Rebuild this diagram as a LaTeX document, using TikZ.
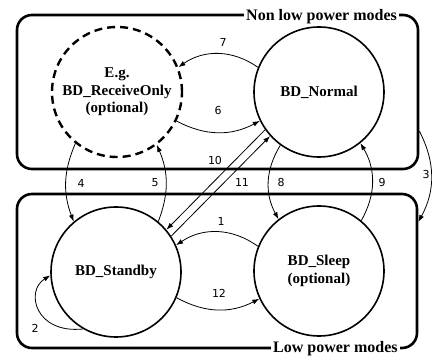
\documentclass[tikz,border=0pt]{standalone}
\usepackage{fontspec}
\setmainfont{Liberation Serif}
\newfontfamily\numfont{DejaVu Sans}
\usetikzlibrary{arrows.meta}

\begin{document}
\begin{tikzpicture}[x=1pt,y=1pt,
  modebox/.style={draw, line width=2.6pt, rounded corners=15pt,
    minimum width=401pt, minimum height=154pt, inner sep=0pt},
  state/.style={circle, draw, line width=1.6pt, minimum size=130pt, inner sep=0pt,
    font=\fontsize{15}{17.5}\selectfont\bfseries, align=center},
  optstate/.style={state, dash pattern=on 8pt off 5pt, line width=2.4pt},
  trans/.style={line width=0.8pt, -{Latex[length=7pt,width=5pt]}},
  num/.style={font=\numfont\fontsize{11}{13}\selectfont, inner sep=1pt},
  grouptitle/.style={fill=white, font=\fontsize{16}{18}\selectfont\bfseries,
    inner xsep=2pt, inner ysep=1pt}
]
\useasboundingbox (0,0) rectangle (432,356);

% mode groups
\node[modebox] (upper) at (217.5,264) {};
\node[modebox, minimum width=400pt] (lower) at (217,85) {};
\node[grouptitle, anchor=base west] (uppertitle) at (244,335) {Non low power modes};
\node[grouptitle, anchor=base west] (lowertitle) at (271,3) {Low power modes};

% states
\node[optstate] (ro) at (117,264) {E.g.\\BD\_ReceiveOnly\\(optional)};
\node[state] (nm) at (319,264) {BD\_Normal};
\node[state] (sb) at (116,84) {BD\_Standby};
\node[state] (sl) at (319,85) {BD\_Sleep\\(optional)};

% transitions
\draw[trans] (nm.158) to[bend right=35] (ro.22);   % 7
\draw[trans] (ro.334) to[bend right=28] (nm.206);  % 6
\draw[trans] (ro.231) to[bend right=22] (sb.130);  % 4
\draw[trans] (sb.50) to[bend right=22] (ro.307);   % 5
\draw[trans] (nm.215) -- (sb.40);                  % 10
\draw[trans] (sb.33) -- (nm.222);                  % 11
\draw[trans] (nm.234) to[bend right=30] (sl.128);  % 8
\draw[trans] (sl.50) to[bend right=30] (nm.309);   % 9
\draw[trans] (sl.158) to[bend right=35] (sb.24);   % 1
\draw[trans] (sb.337) to[bend right=28] (sl.205);  % 12
\draw[trans] (sb.240) .. controls (35,22) and (25,65) .. (sb.183); % 2
\draw[trans] ([yshift=-39pt]upper.east) to[bend left=28] ([yshift=49pt]lower.east); % 3

% transition numbers
\node[num] (n7) at (223,314) {7};
\node[num] (n6) at (218,245) {6};
\node[num] (n4) at (81,173) {4};
\node[num] (n5) at (155,173) {5};
\node[num] (n10) at (215,196) {10};
\node[num] (n11) at (242,174) {11};
\node[num] (n8) at (281,174) {8};
\node[num] (n9) at (382,174) {9};
\node[num] (n3) at (426,182) {3};
\node[num] (n1) at (221,135) {1};
\node[num] (n12) at (219,63) {12};
\node[num] (n2) at (35,28) {2};
\end{tikzpicture}
\end{document}
